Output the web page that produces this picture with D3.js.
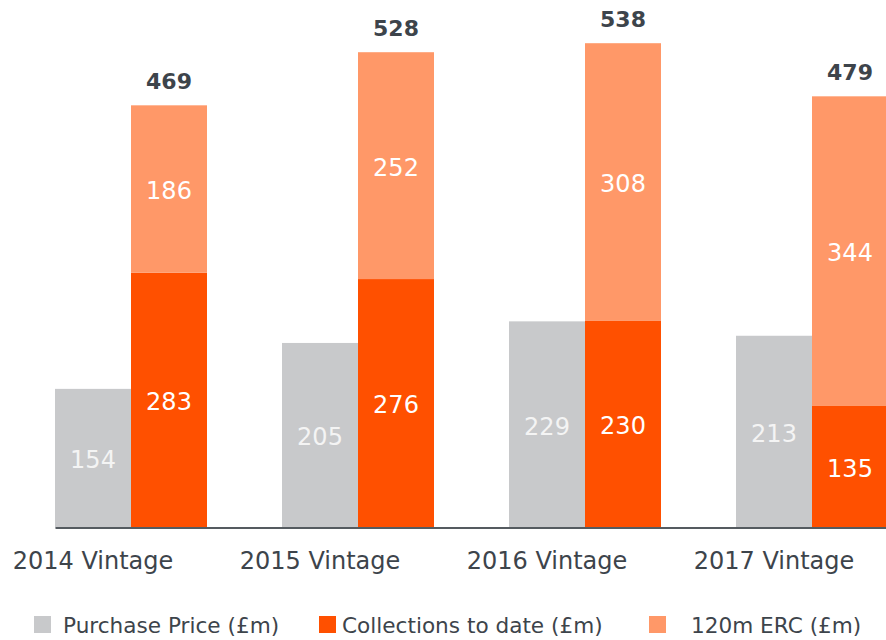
<!DOCTYPE html>
<html>
<head>
<meta charset="utf-8">
<script src="https://cdn.jsdelivr.net/npm/d3@7"></script>
<style>
  body { margin: 0; background: #fff; }
  svg { display: block; font-family: "DejaVu Sans", Verdana, sans-serif; }
</style>
</head>
<body>
<div id="chart"></div>
<script>
const categories = ['2014 Vintage', '2015 Vintage', '2016 Vintage', '2017 Vintage']
const purchasePrice = [154, 205, 229, 213]
const collections = [283, 276, 230, 135]
const erc = [186, 252, 308, 344]
const totals = [469, 528, 538, 479]
const legendLabels = ['Purchase Price (£m)', 'Collections to date (£m)', '120m ERC (£m)']

const W = 886, H = 640
const baseY = 527.5

const colors = {
    grey: '#c8c9cb',
    orange: '#ff5000',
    light: '#ff9868'
}

const svg = d3.select('#chart').append('svg')
    .attr('width', W)
    .attr('height', H)

const x = d3.scaleBand()
    .domain(categories)
    .range([55, 888])
    .paddingInner(75 / 227)
    .paddingOuter(0)

const xSub = d3.scaleBand()
    .domain(['price', 'coll'])
    .range([0, x.bandwidth()])

const y = d3.scaleLinear()
    .domain([0, 586])
    .range([baseY, 0])

const rows = categories.map((c, i) => ({
    cat: c,
    price: purchasePrice[i],
    coll: collections[i],
    erc: erc[i],
    total: totals[i]
}))

const g = svg.selectAll('.group')
    .data(rows)
    .enter().append('g')
    .attr('class', 'group')
    .attr('transform', d => `translate(${x(d.cat)},0)`)

// purchase price bar
g.append('rect')
    .attr('x', xSub('price'))
    .attr('width', xSub.bandwidth())
    .attr('y', d => y(d.price))
    .attr('height', d => baseY - y(d.price))
    .attr('fill', colors.grey)

// collections
g.append('rect')
    .attr('x', xSub('coll'))
    .attr('width', xSub.bandwidth())
    .attr('y', d => y(d.coll))
    .attr('height', d => baseY - y(d.coll))
    .attr('fill', colors.orange)

// ERC stacked on collections
g.append('rect')
    .attr('x', xSub('coll'))
    .attr('width', xSub.bandwidth())
    .attr('y', d => y(d.coll + d.erc))
    .attr('height', d => y(d.coll) - y(d.coll + d.erc))
    .attr('fill', colors.light)

const valFont = 24

g.append('text')
    .attr('x', xSub('price') + xSub.bandwidth() / 2)
    .attr('y', d => (y(d.price) + baseY) / 2 + 1.5)
    .attr('dy', '0.36em')
    .attr('text-anchor', 'middle')
    .attr('fill', '#f4f4f4')
    .style('font-size', valFont + 'px')
    .text(d => d.price)

g.append('text')
    .attr('x', xSub('coll') + xSub.bandwidth() / 2)
    .attr('y', d => (y(d.coll) + baseY) / 2 + 1.5)
    .attr('dy', '0.36em')
    .attr('text-anchor', 'middle')
    .attr('fill', '#fff')
    .style('font-size', valFont + 'px')
    .text(d => d.coll)

g.append('text')
    .attr('x', xSub('coll') + xSub.bandwidth() / 2)
    .attr('y', d => (y(d.coll) + y(d.coll + d.erc)) / 2 + 1.5)
    .attr('dy', '0.36em')
    .attr('text-anchor', 'middle')
    .attr('fill', '#fff')
    .style('font-size', valFont + 'px')
    .text(d => d.erc)

g.append('text')
    .attr('x', xSub('coll') + xSub.bandwidth() / 2)
    .attr('y', d => y(d.total) - 16)
    .attr('text-anchor', 'middle')
    .attr('fill', '#3d444b')
    .style('font-size', '22px')
    .style('font-weight', 'bold')
    .text(d => d.total)

// x axis
const xAxis = d3.axisBottom(x).tickSize(0).tickSizeOuter(0)
const ax = svg.append('g')
    .attr('transform', `translate(0,${baseY})`)
    .call(xAxis)

ax.select('.domain')
    .attr('stroke', '#555b60')
    .attr('stroke-width', 2)

ax.selectAll('.tick text')
    .attr('x', -x.bandwidth() / 4)
    .attr('y', 41)
    .attr('dy', 0)
    .attr('fill', '#3d444b')
    .style('font-size', '24px')
    .style('font-family', '"DejaVu Sans", Verdana, sans-serif')

// legend
const legendX = [34, 319, 649]
const legendTextX = [63, 342, 691]
const legendColors = [colors.grey, colors.orange, colors.light]

const legend = svg.selectAll('.legend')
    .data(legendLabels)
    .enter().append('g')
    .attr('class', 'legend')

legend.append('rect')
    .attr('x', (d, i) => legendX[i])
    .attr('y', 616)
    .attr('width', 17)
    .attr('height', 17)
    .attr('fill', (d, i) => legendColors[i])

legend.append('text')
    .attr('x', (d, i) => legendTextX[i])
    .attr('y', 633)
    .attr('fill', '#3d444b')
    .style('font-size', '21.6px')
    .text(d => d)
</script>
</body>
</html>
